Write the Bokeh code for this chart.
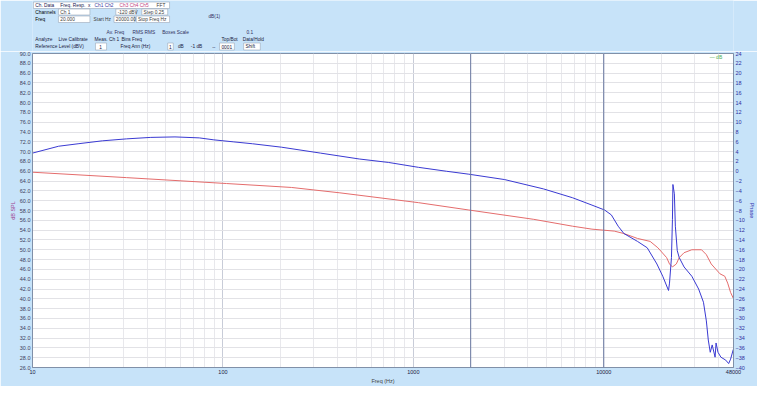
import numpy as np
from bokeh.plotting import figure
from bokeh.models import Range1d, LinearAxis, FixedTicker, Span, Label, PrintfTickFormatter
from bokeh.layouts import column
from bokeh.embed import file_html
from bokeh.resources import INLINE
from bokeh.core.properties import value

# ---------------- data ----------------
red_freq = [10, 31.2, 104.3, 228.8, 411.3, 1063, 1956, 4289, 6855, 8668, 11350, 12760, 15040,
            17520, 19240, 21380, 22140, 22940, 24040, 24900, 26400, 29000, 32610, 34570,
            36660, 40740, 43190, 44740, 46340, 47900]
red_db = [65.8, 64.7, 63.5, 62.7, 61.6, 59.6, 58.1, 56.2, 54.8, 54.2, 53.8, 53.3, 52.3,
          51.7, 50.4, 48.4, 47.1, 46.5, 47.1, 48.4, 49.4, 50.0, 50.0, 49.0,
          47.1, 45.1, 44.6, 43.2, 41.3, 40.1]

blue_freq = [10, 13.72, 17.35, 23.26, 31.2, 41.8, 56.0, 75.1, 89.6, 113.2, 143.2, 203.4, 325.3,
             519.8, 738.9, 1063, 1493, 1956, 3017, 4824, 6855, 8668, 10100, 10960, 11900,
             12760, 15040, 16910, 19010, 20400, 21880, 22140, 22670, 22940, 23070, 23480,
             23760, 24320, 24900, 26400, 29000, 31480, 33380, 34570, 35390, 36240, 37100,
             38420, 38870, 39790, 41220, 43710, 45270, 46340, 47900]
blue_val = [3.7, 5.1, 5.6, 6.2, 6.6, 6.9, 7.0, 6.8, 6.4, 6.0, 5.6, 4.9, 3.7,
            2.5, 1.8, 0.8, 0.0, -0.6, -1.7, -3.6, -5.4, -6.9, -7.9, -8.9, -11.2,
            -12.7, -14.3, -15.6, -18.9, -21.4, -24.3, -22.8, -17.6, -9.8, -2.7, -4.6,
            -11.2, -16.2, -17.6, -19.5, -21.4, -24.0, -26.7, -30.5, -34.4, -36.9, -35.4,
            -37.9, -35.0, -36.9, -37.9, -38.5, -39.2, -38.3, -36.3]

x_major_ticks = [10, 100, 1000, 10000, 48000]
x_major_labels = ["10", "100", "1000", "10000", "48000"]
x_minor_ticks = [20, 30, 40, 50, 60, 70, 80, 90,
                 200, 300, 400, 500, 600, 700, 800, 900,
                 2000, 3000, 4000, 5000, 6000, 7000, 8000, 9000,
                 20000, 30000, 40000]
left_ticks = list(range(26, 91, 2))
right_ticks = list(range(-40, 25, 2))
marker_lines = [2000, 10000]

# header widgets (instrument panel)
hdr_boxes_left = [1, 28, 90, 118, 28, 88, 112, 68, 146, 202, 228]
hdr_boxes_right = [148, 62, 112, 146, 62, 110, 148, 80, 152, 218, 246]
hdr_boxes_top = [1.5, 8.5, 8.5, 8.5, 15.5, 15.5, 15.5, 42.5, 42.5, 42.5, 42.5]
hdr_boxes_bottom = [8, 14.5, 14.5, 14.5, 22, 22, 22, 49.5, 49.5, 49.5, 49.5]

hdr_text_x = [3, 30, 60, 67, 94, 134,
              3, 30, 92, 120,
              3, 30, 66, 90, 114,
              190,
              80, 108, 140, 231,
              3, 28, 67, 96, 204, 227,
              3, 72, 95, 147.5, 157, 171, 194, 204, 230]
hdr_text_y = [4.8, 4.8, 4.8, 4.8, 4.8, 4.8,
              11.5, 11.5, 11.5, 11.5,
              18.8, 18.8, 18.8, 18.8, 18.8,
              15.5,
              31.5, 31.5, 31.5, 31.5,
              38.5, 38.5, 38.5, 38.5, 38.5, 38.5,
              46, 46, 46, 46, 46, 46, 46, 46, 46]
hdr_text = ["Ch. Data", "Freq. Resp.", "x", "Ch1 Ch2", "Ch3 Ch4 Ch5", "FFT",
            "Channels", "Ch 1", "-120 dBV", "Step 0.25",
            "Freq", "20.000", "Start Hz", "20000.00", "Stop Freq Hz",
            "dB(1)",
            "Av. Freq", "RMS RMS", "Boxes Scale", "0.1",
            "Analyze", "Live Calibrate", "Meas. Ch 1", "Bins Freq", "Top/Bot", "Data/Hold",
            "Reference Level (dBV)", "1", "Freq Ann (Hz)", "1", "dB", "-1 dB", "--", "0001", "Shift"]
hdr_text_col = ["#202050", "#202050", "#202050", "#4040a0", "#c04080", "#404040",
                "#000000", "#404040", "#404040", "#404040",
                "#000000", "#404040", "#404040", "#404040", "#404040",
                "#303060",
                "#303060", "#303060", "#303060", "#303060",
                "#202040", "#202040", "#202040", "#202040", "#202040", "#202040",
                "#202040", "#202040", "#202040", "#202040", "#202040", "#202040", "#202040",
                "#202040", "#202040"]

BG = "#c7e3f9"
FONT = "Liberation Sans"

# ---------------- header ----------------
hdr = figure(width=757, height=51, x_range=Range1d(0, 757), y_range=Range1d(51, 0),
             toolbar_location=None, output_backend="svg", min_border=0)
hdr.axis.visible = False
hdr.grid.visible = False
hdr.outline_line_color = None
hdr.background_fill_color = BG
hdr.border_fill_color = BG
hdr.quad(left=hdr_boxes_left, right=hdr_boxes_right, top=hdr_boxes_top, bottom=hdr_boxes_bottom,
         fill_color="white", line_color="#9aa8b8", line_width=0.6)
hdr.text(x=hdr_text_x, y=hdr_text_y, text=hdr_text, text_color=hdr_text_col,
         text_font=value(FONT), text_font_size="4.8px", text_baseline="middle")

# ---------------- main plot ----------------
p = figure(width=757, height=335, x_axis_type="log", x_range=Range1d(10, 48000),
           y_range=Range1d(26, 90), toolbar_location=None, output_backend="svg",
           min_border_top=2, min_border_bottom=15, min_border_left=32, min_border_right=15)
p.background_fill_color = "white"
p.border_fill_color = BG
p.outline_line_color = "#8090a8"
p.extra_y_ranges = {"right": Range1d(-40, 24)}

xt = FixedTicker(ticks=x_major_ticks, minor_ticks=x_minor_ticks)
p.xaxis.ticker = xt
p.xaxis.major_label_overrides = {t: l for t, l in zip(x_major_ticks, x_major_labels)}
p.xaxis.axis_label = "Freq (Hz)"
p.yaxis.ticker = FixedTicker(ticks=left_ticks)
p.yaxis.formatter = PrintfTickFormatter(format="%.1f")
p.yaxis.axis_label = "dB SPL"
p.yaxis.axis_label_text_color = "#a04090"

ra = LinearAxis(y_range_name="right", ticker=FixedTicker(ticks=right_ticks),
                axis_label="Phase", axis_label_text_color="#3030b0")
p.add_layout(ra, "right")
ra.major_label_text_color = "#3030a0"

for ax in [p.xaxis[0], p.yaxis[0], ra]:
    ax.major_label_text_font_size = "5.5px"
    ax.major_label_text_font = FONT
    ax.axis_label_text_font_size = "5.5px"
    ax.axis_label_text_font = FONT
    ax.axis_label_text_font_style = "normal"
    ax.axis_label_standoff = 1
    ax.major_label_standoff = 2
    ax.major_tick_out = 0
    ax.major_tick_in = 0
    ax.minor_tick_out = 0
    ax.minor_tick_in = 0
    ax.axis_line_color = "#8090a8"
p.yaxis[0].major_label_text_color = "#404060"
p.xaxis[0].major_label_text_color = "#202040"

p.xgrid.grid_line_color = "#c8ccd8"
p.xgrid.minor_grid_line_color = "#e8e8ec"
p.ygrid.grid_line_color = "#e2e2e6"

for f in marker_lines:
    p.add_layout(Span(location=f, dimension="height", line_color="#6a78a0", line_width=1))

p.line(red_freq, red_db, line_color="#e46c6c", line_width=1)
p.line(blue_freq, blue_val, line_color="#3a3ad2", line_width=1, y_range_name="right")

p.add_layout(Label(x=36000, y=88.6, text="— dB", text_color="#50b050", text_font_size="5px",
                   text_font=FONT))

layout = column(hdr, p, spacing=0)
open("out.html", "w").write(file_html(layout, INLINE))
